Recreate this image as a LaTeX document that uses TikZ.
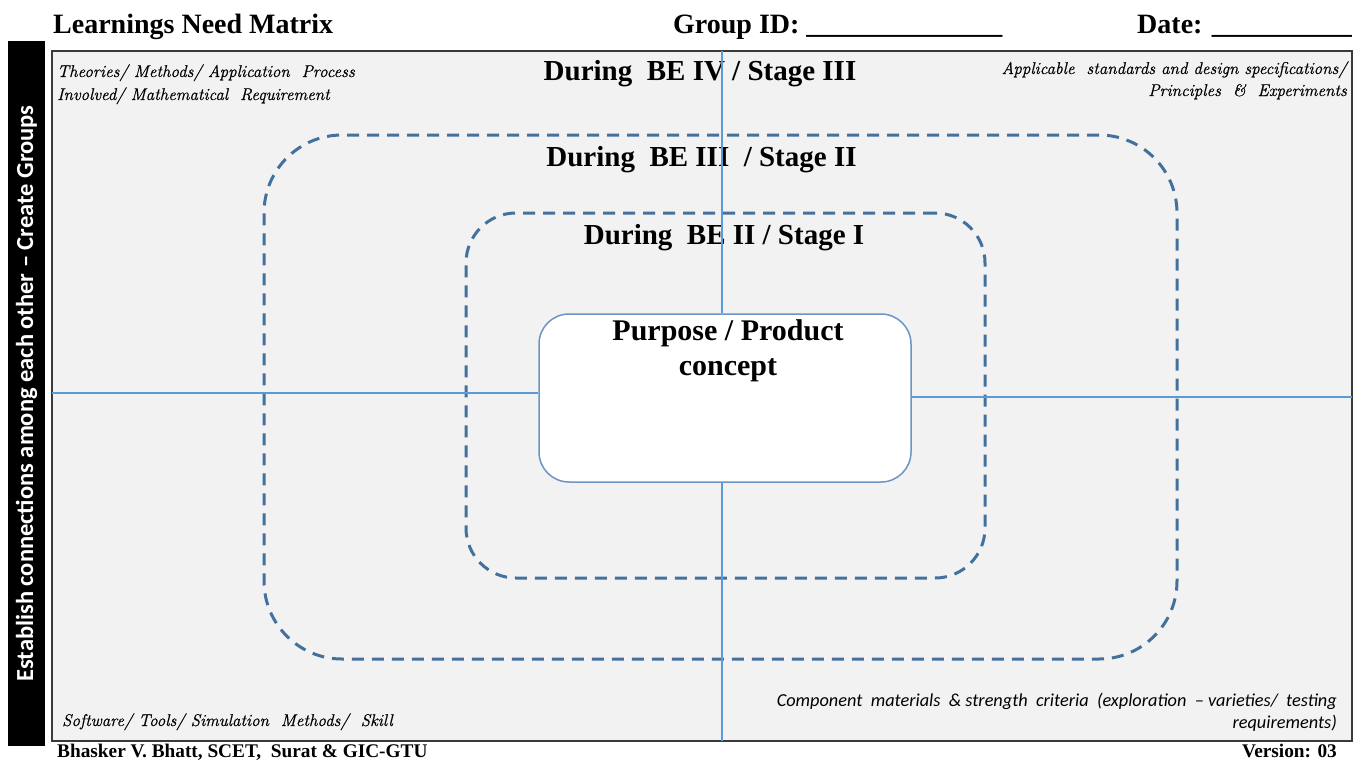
\documentclass[tikz,border=0pt]{standalone}
\usepackage{fontspec}
\setmainfont{Liberation Serif}
\newfontfamily\calib{Carlito}
\newfontfamily\lmr{Latin Modern Roman}[ItalicFeatures={FakeBold=0.6}]
\definecolor{boxgray}{HTML}{F2F2F2}
\definecolor{lineblue}{HTML}{5B9BD5}
\definecolor{dashblue}{HTML}{41719C}
\definecolor{cboxblue}{HTML}{6C94C4}
\definecolor{framegray}{HTML}{3A3A3A}
\begin{document}
\begin{tikzpicture}[x=1pt,y=-1pt,
  titletext/.style={font=\fontsize{28}{30}\selectfont\bfseries, inner sep=0pt, anchor=base west},
  stagetext/.style={font=\fontsize{29}{31}\selectfont\bfseries, inner sep=0pt, anchor=base},
  notetext/.style={font=\lmr\fontsize{17}{23}\selectfont\itshape, inner sep=0pt},
  foottext/.style={font=\fontsize{19.3}{21}\selectfont\bfseries, inner sep=0pt, anchor=base},
  framebox/.style={draw=framegray, line width=1.5pt, fill=boxgray, minimum width=1300pt, minimum height=690pt, inner sep=0pt},
  dashbox/.style={draw=dashblue, line width=3pt, dash pattern=on 12pt off 8pt, inner sep=0pt},
  axisline/.style={draw=lineblue, line width=2.5pt},
  centerbox/.style={draw=cboxblue, line width=1.5pt, fill=white, rounded corners=30pt, minimum width=372pt, minimum height=168pt, inner sep=0pt}
]
\useasboundingbox (0,0) rectangle (1358,763);
% side bar
\node[fill=black, minimum width=37pt, minimum height=705pt, inner sep=0pt] (bar) at (26.5,393.5) {};
\node[rotate=90, text=white, font=\calib\bfseries\fontsize{24.5}{26}\selectfont, inner sep=0pt] (bartext) at (bar.center) {Establish connections among each other – Create Groups};
% header
\node[titletext] (title) at (53,33) {Learnings Need Matrix};
\node[titletext] (group) at (673,33) {Group ID: \_\_\_\_\_\_\_\_\_\_\_\_\_\_};
\node[titletext] (date) at (1137,33) {Date: \_\_\_\_\_\_\_\_\_\_};
% main frame
\node[framebox] (frame) at (702,396) {};
% dashed stages
\node[dashbox, rounded corners=78pt, minimum width=913pt, minimum height=524pt] (outer) at (720.5,397) {};
\node[dashbox, rounded corners=50pt, minimum width=519pt, minimum height=365pt] (inner) at (725.5,395.5) {};
% stage labels
\node[stagetext] (s3) at (700,80) {During\ \ BE IV / Stage III};
\node[stagetext] (s2) at (701.5,166) {During\ \ BE III\ \ / Stage II};
\node[stagetext] (s1) at (724,244) {During\ \ BE II / Stage I};
% corner notes
\node[notetext, anchor=base west] (nTL1) at (57,77) {Theories/ Methods/ Application\ \ Process};
\node[notetext, anchor=base west] (nTL2) at (57,100) {Involved/ Mathematical\ \ Requirement};
\node[notetext, anchor=base east] (nTR1) at (1347,74) {Applicable\ \ standards and design specifications/};
\node[notetext, anchor=base east] (nTR2) at (1347,96) {Principles\ \ \&\ \ Experiments};
\node[notetext, anchor=base west] (nBL) at (62,726) {Software/ Tools/ Simulation\ \ Methods/\ \ Skill};
\node[font=\calib\itshape\fontsize{18.3}{23}\selectfont, inner sep=0pt, anchor=base east] (nBR1) at (1337,706) {Component\ \ materials\ \ \& strength\ \ criteria\ \ (exploration\ \ – varieties/\ \ testing};
\node[font=\calib\itshape\fontsize{18.3}{23}\selectfont, inner sep=0pt, anchor=base east] (nBR2) at (1337,728) {requirements)};
% axes and centre box
\coordinate (vt) at (722,51);
\coordinate (vb) at (722,741);
\coordinate (hl) at (52,393);
\coordinate (hr) at (1352,397);
\node[centerbox] (cbox) at (725,398) {};
\draw[axisline] (vt) -- (vt |- cbox.north);
\draw[axisline] (vb) -- (vb |- cbox.south);
\draw[axisline] (hl) -- (hl -| cbox.west);
\draw[axisline] (hr) -- (hr -| cbox.east);
\node[font=\fontsize{30}{35}\selectfont\bfseries, inner sep=0pt, anchor=base] (ctext1) at (728,340) {Purpose / Product};
\node[font=\fontsize{30}{35}\selectfont\bfseries, inner sep=0pt, anchor=base] (ctext2) at (728,375) {concept};
% footer
\node[foottext, anchor=base west] (author) at (57,757) {Bhasker V. Bhatt, SCET,\ \ Surat \& GIC-GTU};
\node[foottext, anchor=base east] (version) at (1337,757) {Version: 03};
\end{tikzpicture}
\end{document}
